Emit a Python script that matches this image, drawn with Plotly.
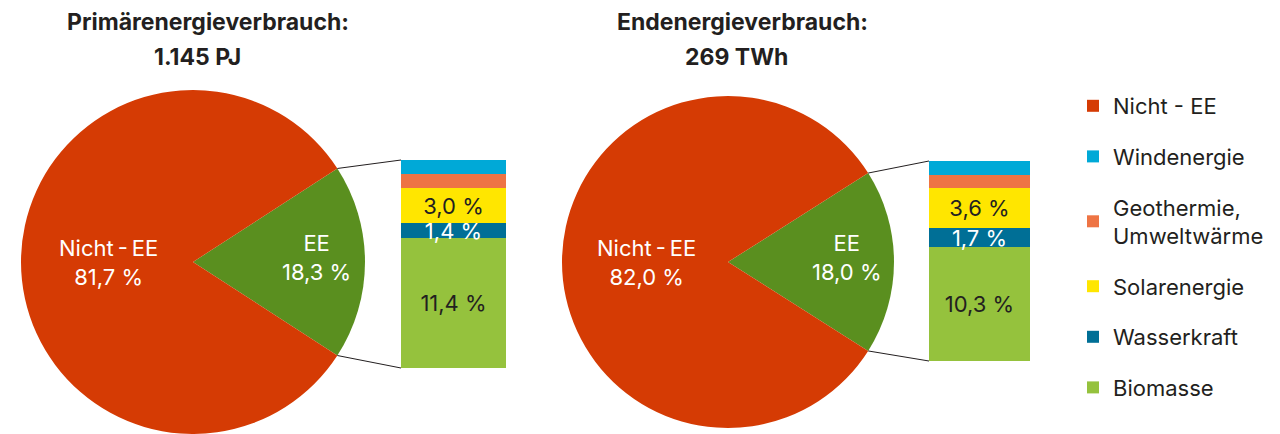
import math
import plotly.graph_objects as go

# ---------------- data ----------------
categories = ["Biomasse", "Wasserkraft", "Solarenergie", "Geothermie,<br>Umweltwärme", "Windenergie"]
primary_ee = [11.4, 1.4, 3.0, 1.3, 1.2]
final_ee = [10.3, 1.7, 3.6, 1.1, 1.3]
show_value = [True, True, True, False, False]
legend_rank = [6, 5, 4, 3, 2]

pie_labels = ["EE", "Nicht\u2009-\u2009EE"]
primary_share = [18.3, 81.7]
final_share = [18.0, 82.0]

title_lines = [("Primärenergieverbrauch:", "1.145 PJ"), ("Endenergieverbrauch:", "269 TWh")]
rest_legend_name = "Nicht - EE"

# ---------------- style ----------------
W, H = 1280, 434
FONT = "Inter"
TXT = "#231f20"
cat_colors = ["#95c23d", "#006f96", "#ffe600", "#ee7444", "#00a9d7"]
cat_text_colors = ["#231f20", "#ffffff", "#231f20", "#231f20", "#231f20"]
pie_colors = ["#5a8f1f", "#d53b04"]

# geometry in pixels (layout)
pies = [dict(cx=193, cy=262, r=172), dict(cx=728, cy=262, r=166)]
bars = [dict(x0=401, x1=506, top=160, bot=368), dict(x0=929, x1=1030, top=161, bot=361)]
title_x = [(208, 197), (742, 736)]


def fmt(v):
    return f"{v:.1f}".replace(".", ",") + " %"


fig = go.Figure()
annotations = []
shapes = []

for i, (shares, ee_vals) in enumerate([(primary_share, primary_ee), (final_share, final_ee)]):
    p = pies[i]
    b = bars[i]
    # pie
    ee_frac = shares[0] / sum(shares)
    fig.add_trace(go.Pie(
        labels=pie_labels, values=shares, sort=False, direction="clockwise",
        rotation=90 - ee_frac * 180,
        marker=dict(colors=pie_colors, line=dict(width=0)),
        textinfo="none", hoverinfo="label+percent", showlegend=False,
        domain=dict(x=[(p["cx"] - p["r"]) / W, (p["cx"] + p["r"]) / W],
                    y=[(H - p["cy"] - p["r"]) / H, (H - p["cy"] + p["r"]) / H]),
    ))
    # slice labels
    annotations.append(dict(
        x=(p["cx"] - 0.49 * p["r"]) / W, y=(H - p["cy"]) / H, xref="paper", yref="paper",
        xanchor="center", yanchor="middle",
        text=f"{pie_labels[1]}<br>{fmt(shares[1])}", showarrow=False,
        font=dict(family=FONT, size=22, color="white"), align="center"))
    annotations.append(dict(
        x=(p["cx"] + 0.716 * p["r"]) / W, y=(H - p["cy"] + 5) / H, xref="paper", yref="paper",
        xanchor="center", yanchor="middle",
        text=f"{pie_labels[0]}<br>{fmt(shares[0])}", showarrow=False,
        font=dict(family=FONT, size=22, color="white"), align="center"))

    # stacked bar
    xa = "x" if i == 0 else "x2"
    ya = "y" if i == 0 else "y2"
    for j, cat in enumerate(categories):
        fig.add_trace(go.Bar(
            x=["EE"], y=[ee_vals[j]], name=cat, xaxis=xa, yaxis=ya,
            marker=dict(color=cat_colors[j], line=dict(width=0)),
            text=[fmt(ee_vals[j]) if show_value[j] else ""],
            textposition="inside", insidetextanchor="middle", textangle=0,
            constraintext="none",
            textfont=dict(family=FONT, size=22, color=cat_text_colors[j]),
            legendgroup=cat, legendrank=legend_rank[j], showlegend=(i == 0),
            hoverinfo="name+y",
        ))

    # connector lines from pie EE edge to bar corners
    th = ee_frac * math.pi
    ex = p["cx"] + p["r"] * math.cos(th)
    ey_top = p["cy"] - p["r"] * math.sin(th)
    ey_bot = p["cy"] + p["r"] * math.sin(th)
    for (py, by) in [(ey_top, b["top"]), (ey_bot, b["bot"])]:
        shapes.append(dict(type="line", xref="paper", yref="paper",
                           x0=ex / W, y0=(H - py) / H, x1=b["x0"] / W, y1=(H - by) / H,
                           line=dict(color="#231f20", width=1)))

    # titles
    for k, line in enumerate(title_lines[i]):
        annotations.append(dict(
            x=title_x[i][k] / W, y=(H - (22 + 35 * k)) / H, xref="paper", yref="paper",
            xanchor="center", yanchor="middle",
            text=f"<b>{line}</b>", showarrow=False,
            font=dict(family=FONT, size=23, color=TXT)))

# legend proxy for the non-renewable share
fig.add_trace(go.Scatter(
    x=[None], y=[None], mode="markers", name=rest_legend_name,
    marker=dict(symbol="square", size=12, color=pie_colors[1]),
    legendgroup="rest", legendrank=1, showlegend=True, xaxis="x", yaxis="y"))

fig.update_layout(
    width=W, height=H,
    margin=dict(l=0, r=0, t=0, b=0),
    paper_bgcolor="white", plot_bgcolor="rgba(0,0,0,0)",
    barmode="stack", bargap=0,
    font=dict(family=FONT, color=TXT),
    xaxis=dict(domain=[bars[0]["x0"] / W, bars[0]["x1"] / W], visible=False, fixedrange=True),
    yaxis=dict(domain=[(H - bars[0]["bot"]) / H, (H - bars[0]["top"]) / H],
               range=[0, sum(primary_ee)], visible=False, fixedrange=True),
    xaxis2=dict(domain=[bars[1]["x0"] / W, bars[1]["x1"] / W], visible=False, anchor="y2", fixedrange=True),
    yaxis2=dict(domain=[(H - bars[1]["bot"]) / H, (H - bars[1]["top"]) / H],
                range=[0, sum(final_ee)], visible=False, anchor="x2", fixedrange=True),
    legend=dict(x=1073 / W, xanchor="left", y=(H - 85) / H, yanchor="top",
                traceorder="grouped", tracegroupgap=19,
                font=dict(family=FONT, size=22, color=TXT), bgcolor="rgba(0,0,0,0)"),
    annotations=annotations,
    shapes=shapes,
    showlegend=True,
)

fig.write_html("out.html", config={"displayModeBar": False},
               post_script="document.body.style.margin='0';document.body.style.overflow='hidden';")
